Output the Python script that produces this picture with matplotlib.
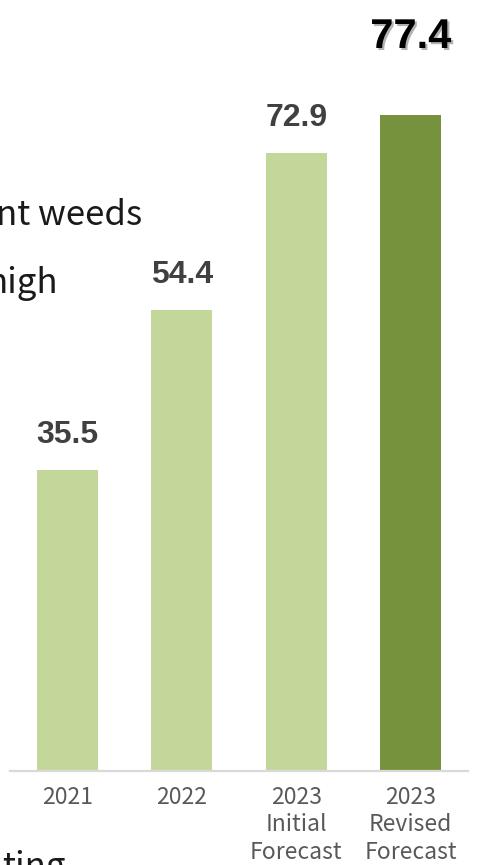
import matplotlib
matplotlib.use("Agg")
import matplotlib.pyplot as plt
import matplotlib.patheffects as pe

categories = ["2021", "2022", "2023\nInitial\nForecast", "2023\nRevised\nForecast"]
values = [35.5, 54.4, 72.9, 77.4]
labels = ["35.5", "54.4", "72.9", "77.4"]
colors = ["#c4d79b", "#c4d79b", "#c4d79b", "#76923c"]

W, H = 481, 865
fig = plt.figure(figsize=(W / 100, H / 100), dpi=100)
ax = fig.add_axes([10 / W, (H - 771) / H, 458 / W, 771 / H])

x = list(range(len(values)))
ax.bar(x, values, width=0.53, color=colors, zorder=2)
ax.set_xlim(-0.5, 3.5)
ax.set_ylim(0, 771 / 8.48)

for s in ["top", "right", "left"]:
    ax.spines[s].set_visible(False)
ax.spines["bottom"].set_color("#d9d9d9")
ax.spines["bottom"].set_linewidth(1.6)
ax.set_yticks([])
ax.set_xticks(x)
ax.set_xticklabels(categories, fontsize=16.5, color="#595959",
                   family=["Noto Sans CJK JP", "DejaVu Sans"], linespacing=1.27)
ax.tick_params(axis="x", length=0, pad=10.5)

for i, (v, lab) in enumerate(zip(values, labels)):
    if i < 3:
        ax.annotate(lab, (i, v), xytext=(0, 19.5), textcoords="offset points",
                    ha="center", va="baseline", fontsize=23, fontweight="bold",
                    color="#404040", family="Liberation Sans")
    else:
        ax.annotate(lab, (i, v), xytext=(0, 48), textcoords="offset points",
                    ha="center", va="baseline", fontsize=30, fontweight="bold",
                    color="#000000", family="Liberation Sans",
                    path_effects=[pe.withSimplePatchShadow(offset=(1.5, -1.5),
                                                           shadow_rgbFace="#808080",
                                                           alpha=0.6)])

fam = ["Noto Sans CJK JP", "DejaVu Sans"]
fig.text(142 / W, (H - 225) / H, "nt weeds", ha="right", va="baseline",
         fontsize=25, color="#1a1a1a", family=fam)
fig.text(58 / W, (H - 293) / H, "high", ha="right", va="baseline",
         fontsize=25, color="#1a1a1a", family=fam)
fig.text(66 / W, (H - 877) / H, "ting", ha="right", va="baseline",
         fontsize=25, color="#1a1a1a", family=fam)

fig.savefig("out.png", dpi=100)
